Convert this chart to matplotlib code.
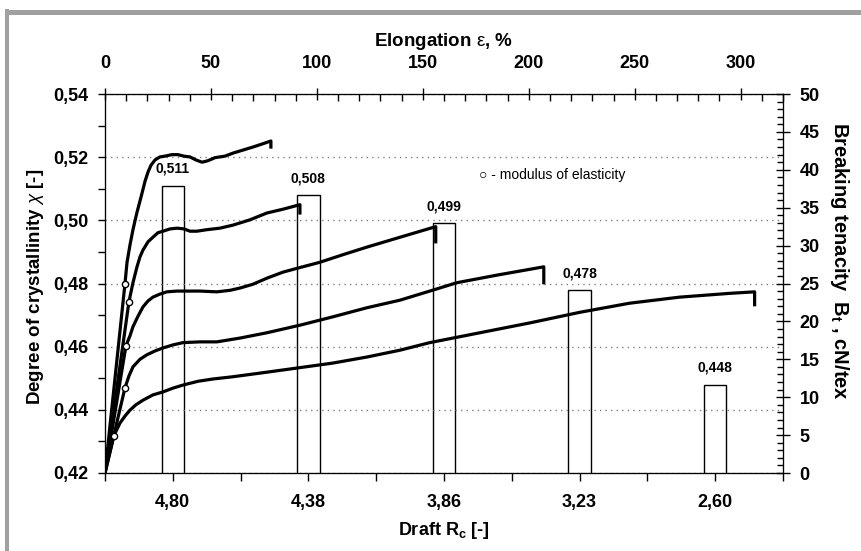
import matplotlib
matplotlib.use("Agg")
import matplotlib.pyplot as plt
from matplotlib.ticker import MultipleLocator, FuncFormatter
from matplotlib.lines import Line2D

plt.rcParams['font.family'] = ['Liberation Sans', 'DejaVu Sans']
plt.rcParams['mathtext.fontset'] = 'custom'
plt.rcParams['mathtext.rm'] = 'Liberation Sans'
plt.rcParams['mathtext.it'] = 'Liberation Sans:italic'
plt.rcParams['mathtext.bf'] = 'Liberation Sans:bold'

#%% Daten
draft = ['4,80', '4,38', '3,86', '3,23', '2,60']
crystallinity = [0.511, 0.508, 0.499, 0.478, 0.448]

# Kraft-Dehnungs-Kurven: Dehnung [%], Festigkeit [cN/tex] (letzter Punkt = Bruch)
elong_480 = [0, 9.4, 10.4, 11.8, 13.2, 15.1, 17.0, 18.9, 20.3, 21.7, 23.6, 25.9, 28.3, 31.6, 34.4,
             37.3, 40.1, 42.9, 45.8, 48.6, 51.9, 56.6, 60.4, 65.1, 69.8, 74.1, 78.3, 78.3]
ten_480 = [0, 24.9, 27.8, 30.1, 32.1, 34.4, 36.4, 38.5, 39.7, 40.6, 41.3, 41.7, 41.8, 42.0, 42.0,
           41.8, 41.7, 41.3, 41.0, 41.2, 41.6, 41.8, 42.2, 42.6, 43.0, 43.4, 43.8, 43.0]

elong_438 = [0, 11.3, 13.2, 15.1, 16.5, 17.9, 20.3, 22.6, 25.0, 27.4, 30.7, 34.0, 37.3, 40.1, 43.4,
             48.1, 54.2, 60.4, 68.4, 76.4, 84.0, 92.0, 92.0]
ten_438 = [0, 22.6, 25.1, 27.2, 28.5, 29.4, 30.5, 31.1, 31.7, 31.9, 32.2, 32.3, 32.2, 31.9, 31.9,
           32.1, 32.3, 32.7, 33.4, 34.3, 34.8, 35.4, 34.3]

elong_386 = [0, 9.9, 11.8, 13.2, 15.6, 17.9, 20.3, 22.6, 25.9, 29.2, 34.0, 38.7, 44.8, 52.8, 59.0,
             63.7, 69.8, 76.4, 84.0, 90.6, 101.4, 112.3, 123.6, 139.2, 156.1, 156.1]
ten_386 = [0, 16.8, 18.1, 19.3, 20.7, 21.9, 22.7, 23.2, 23.6, 23.9, 24.0, 24.0, 24.0, 23.9, 24.1,
           24.4, 24.9, 25.7, 26.5, 27.0, 27.8, 28.8, 29.8, 31.1, 32.5, 30.5]

elong_323 = [0, 9.4, 11.3, 13.2, 16.5, 19.8, 23.6, 27.4, 32.1, 36.8, 44.8, 52.8, 63.7, 76.4, 92.0,
             107.5, 123.6, 139.2, 153.3, 166.0, 184.9, 207.1, 207.1]
ten_323 = [0, 11.2, 12.8, 14.0, 15.0, 15.6, 16.1, 16.5, 16.9, 17.2, 17.3, 17.3, 17.8, 18.5, 19.5,
           20.6, 21.8, 22.8, 24.0, 25.1, 26.1, 27.2, 25.1]

elong_260 = [0, 4.2, 5.7, 7.1, 9.4, 11.8, 14.6, 17.9, 22.6, 27.4, 32.1, 36.8, 43.9, 50.9, 60.4,
             76.4, 92.0, 107.5, 123.6, 139.2, 153.3, 176.9, 200.5, 224.1, 247.6, 271.2, 294.8,
             306.6, 306.6]
ten_260 = [0, 4.9, 5.8, 6.6, 7.5, 8.3, 9.0, 9.6, 10.3, 10.7, 11.2, 11.6, 12.1, 12.4, 12.7,
           13.3, 13.9, 14.5, 15.3, 16.2, 17.2, 18.5, 19.8, 21.2, 22.4, 23.2, 23.7,
           23.9, 22.2]

# Elastizitaetsmodul-Punkte
mod_elong = [9.4, 11.3, 9.9, 9.4, 4.2]
mod_ten = [24.9, 22.6, 16.8, 11.2, 4.9]

curves = [(elong_480, ten_480), (elong_438, ten_438), (elong_386, ten_386),
          (elong_323, ten_323), (elong_260, ten_260)]

#%% Plot
fig = plt.figure(figsize=(8.61, 5.51), dpi=100)
ax = fig.add_axes([105/861, 1-473/551, 678/861, 379/551])
ax2 = ax.twinx()
ax3 = ax2.twiny()

pos = [2*i + 1 for i in range(len(draft))]
bars = ax.bar(pos, crystallinity, width=0.33, color='white', edgecolor='black', linewidth=1)
ax.bar_label(bars, labels=[f"{v:.3f}".replace('.', ',') for v in crystallinity],
             padding=7, fontsize=10, fontweight='bold')

ax.set_xlim(0, 10)
ax.set_ylim(0.42, 0.54)
ax.set_xticks(pos, draft)
ax.xaxis.set_minor_locator(MultipleLocator(1))
ax.yaxis.set_major_locator(MultipleLocator(0.02))
ax.yaxis.set_minor_locator(MultipleLocator(0.01))
ax.yaxis.set_major_formatter(FuncFormatter(lambda v, p: f"{v:.2f}".replace('.', ',')))
ax.set_axisbelow(False)
ax.yaxis.grid(True, which='major', color='#808080', linestyle=(0, (1, 3)), linewidth=1)
ax.tick_params(axis='x', which='both', direction='out', length=6, width=1, labelsize=13, pad=9)
ax.tick_params(axis='y', which='both', direction='out', length=5, width=1, labelsize=13, pad=7)
for lab in ax.get_xticklabels() + ax.get_yticklabels():
    lab.set_fontweight('bold')
ax.set_xlabel('Draft R$_\\mathbf{c}$ [-]', fontsize=13, fontweight='bold')
ax.xaxis.set_label_coords(0.5, -0.123)
ax.set_ylabel('Degree of crystallinity $\\chi$ [-]', fontsize=13.5, fontweight='bold')
ax.yaxis.set_label_coords(-0.087, 0.49)

ax2.set_ylim(0, 50)
ax2.yaxis.set_major_locator(MultipleLocator(5))
ax2.yaxis.set_minor_locator(MultipleLocator(1))
ax2.tick_params(axis='y', which='major', direction='inout', length=10, width=1, labelsize=13, pad=7)
ax2.tick_params(axis='y', which='minor', direction='in', length=4, width=1)
for lab in ax2.get_yticklabels():
    lab.set_fontweight('bold')
ax2.set_ylabel('Breaking tenacity  B$_\\mathbf{t}$ , cN/tex', fontsize=14.5, fontweight='bold',
               rotation=270, va='center')
ax2.yaxis.set_label_coords(1.084, 0.56)

for e, t in curves:
    ax3.plot(e, t, color='black', linewidth=2.3, solid_joinstyle='round')
ax3.plot(mod_elong, mod_ten, 'o', markersize=4.5, markerfacecolor='white',
         markeredgecolor='black', markeredgewidth=1, zorder=5)
ax3.set_xlim(0, 320)
ax3.xaxis.set_major_locator(MultipleLocator(50))
ax3.xaxis.set_minor_locator(MultipleLocator(10))
ax3.tick_params(axis='x', which='major', direction='inout', length=9, width=1, labelsize=13, pad=11)
ax3.tick_params(axis='x', which='minor', direction='in', length=5, width=1)
for lab in ax3.get_xticklabels():
    lab.set_fontweight('bold')
ax3.set_xlabel('Elongation $\\mathrm{\\varepsilon}$, %', fontsize=13.5, fontweight='bold')
ax3.xaxis.set_label_coords(0.5, 1.127)

ax.text(0.552, 0.786, '\u25cb - modulus of elasticity', transform=ax.transAxes,
        fontsize=10, ha='left', va='center')

# grauer Rahmen
fig.add_artist(Line2D([5/861, 1], [1-11.5/551, 1-11.5/551], transform=fig.transFigure,
                      color='#a0a0a0', linewidth=3.6, solid_capstyle='butt'))
fig.add_artist(Line2D([7/861, 7/861], [0, 1-9/551], transform=fig.transFigure,
                      color='#a0a0a0', linewidth=2.9, solid_capstyle='butt'))

fig.savefig('out.png', dpi=100, facecolor='white')
